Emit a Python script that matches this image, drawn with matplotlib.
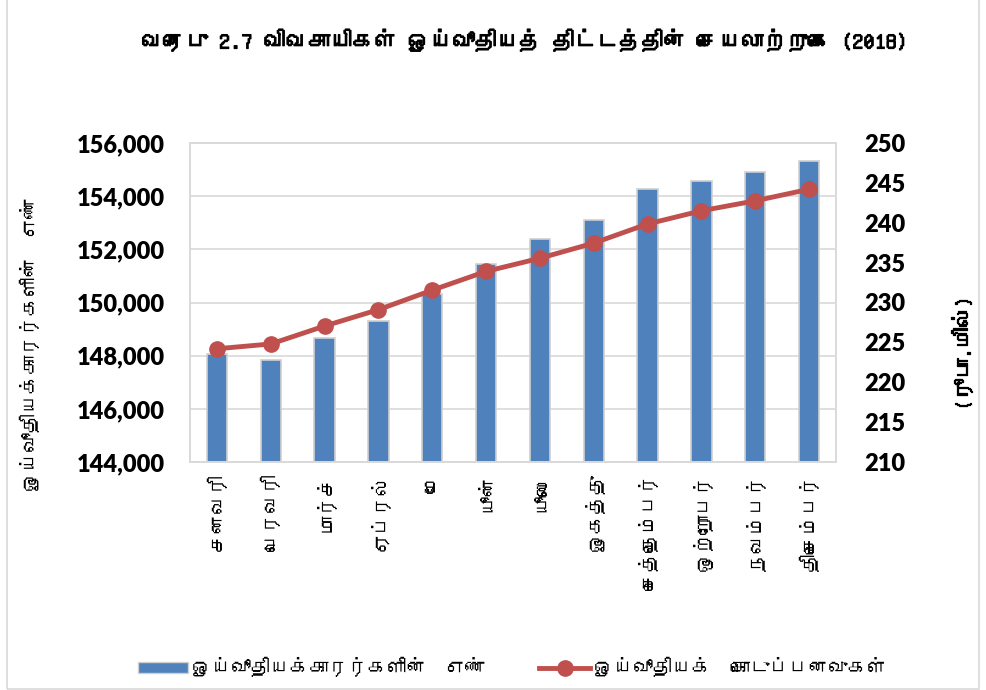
import matplotlib
matplotlib.use('Agg')
import matplotlib.pyplot as plt
import matplotlib.patheffects as pe
import numpy as np
from matplotlib import font_manager
from matplotlib.ft2font import FT2Font
from matplotlib.lines import Line2D
from matplotlib.patches import Patch, Rectangle

# data
months = ['சனவரி', 'பெரவரி', 'மார்ச்', 'ஏப்ரல்', 'மே', 'யூன்', 'யூலை',
          'ஓகத்து', 'செத்தெம்பர்', 'ஒற்றோபர்', 'நவம்பர்', 'திசெம்பர்']
pensioners = [148050, 147850, 148680, 149300, 150330, 151440,
              152390, 153120, 154260, 154580, 154920, 155310]
payments = [224.2, 224.8, 227.05, 229.1, 231.55, 233.9,
            235.55, 237.45, 239.85, 241.5, 242.75, 244.2]
left_ticks = [144000, 146000, 148000, 150000, 152000, 154000, 156000]
right_ticks = [210, 215, 220, 225, 230, 235, 240, 245, 250]

title = 'வரைபு 2.7 விவசாயிகள் ஓய்வூதியத் திட்டத்தின் செயலாற்றுகை (2018)'
left_label = 'ஓய்வூதியக்காரர்களின்  எண்'
right_label = '(ரூபா.மில்)'
bar_name = 'ஓய்வூதியக்காரர்களின்  எண்'
line_name = 'ஓய்வூதியக்  கொடுப்பனவுகள்'

def find_tamil():
    # first installed font that carries Tamil glyphs
    for f in font_manager.fontManager.ttflist:
        try:
            if 0x0B95 in FT2Font(f.fname).get_charmap():
                return f.name
        except Exception:
            pass
    return None

tamil = find_tamil()
tfam = [tamil, 'DejaVu Sans'] if tamil else ['DejaVu Sans']
num_font = 'Lato'
# the Tamil face has no bold, so thicken it with a stroke
fake_bold = [pe.withStroke(linewidth=0.9, foreground='black')]

bar_col = '#4F81BD'
line_col = '#C0504D'
grid_col = '#D9D9D9'

fig = plt.figure(figsize=(9.86, 6.9), dpi=100)
ax = fig.add_axes([190/986, 1-462/690, (836-190)/986, (462-143)/690])
ax2 = ax.twinx()

x = np.arange(len(months))
ax.bar(x, pensioners, width=0.38, color=bar_col, edgecolor='#D0D0D0',
       linewidth=1.2, zorder=2)
ax2.plot(x, payments, color=line_col, linewidth=3.5, marker='o',
         markersize=11, zorder=3)

ax.set_xlim(-0.5, len(months)-0.5)
ax.set_ylim(left_ticks[0], left_ticks[-1])
ax2.set_ylim(right_ticks[0], right_ticks[-1])
ax.set_yticks(left_ticks)
ax.set_yticklabels([f'{v:,}' for v in left_ticks], fontfamily=num_font,
                   fontweight='heavy', fontsize=17)
ax2.set_yticks(right_ticks)
ax2.set_yticklabels([str(v) for v in right_ticks], fontfamily=num_font,
                    fontweight='heavy', fontsize=17)
ax.set_xticks(x)
ax.set_xticklabels(months, rotation=90, fontfamily=tfam, fontsize=14,
                   va='top')
ax.tick_params(axis='y', length=0, pad=18)
ax.tick_params(axis='x', length=0, pad=8)
ax2.tick_params(axis='y', length=0, pad=20)

ax.grid(axis='y', color=grid_col, linewidth=1.2, zorder=0)
ax.set_axisbelow(True)
for a in (ax, ax2):
    for s in a.spines.values():
        s.set_color(grid_col)
        s.set_linewidth(1.2)

fig.text(525/986, 1-40/690, title, ha='center', va='center',
         fontfamily=tfam, fontsize=16, path_effects=fake_bold)
fig.text(30/986, 1-345/690, left_label, rotation=90, ha='center',
         va='center', fontfamily=tfam, fontsize=14)
fig.text(962/986, 1-353/690, right_label, rotation=90, ha='center',
         va='center', fontfamily=tfam, fontsize=15, path_effects=fake_bold)

handles = [Patch(facecolor=bar_col, edgecolor='#D0D0D0'),
           Line2D([0], [0], color=line_col, linewidth=3.5, marker='o',
                  markersize=11)]
fig.legend(handles, [bar_name, line_name], loc='center',
           bbox_to_anchor=(512/986, 1-667/690), ncol=2, frameon=False,
           prop={'family': tfam, 'size': 14}, handlelength=2.6,
           handleheight=0.5, columnspacing=2.8, handletextpad=0.2)

# outer chart border
fig.patches.append(Rectangle((7/986, 0.002), 1-14/986, 1.2, fill=False,
                             edgecolor=grid_col, linewidth=1.2,
                             transform=fig.transFigure, figure=fig))

fig.savefig('out.png', dpi=100)
